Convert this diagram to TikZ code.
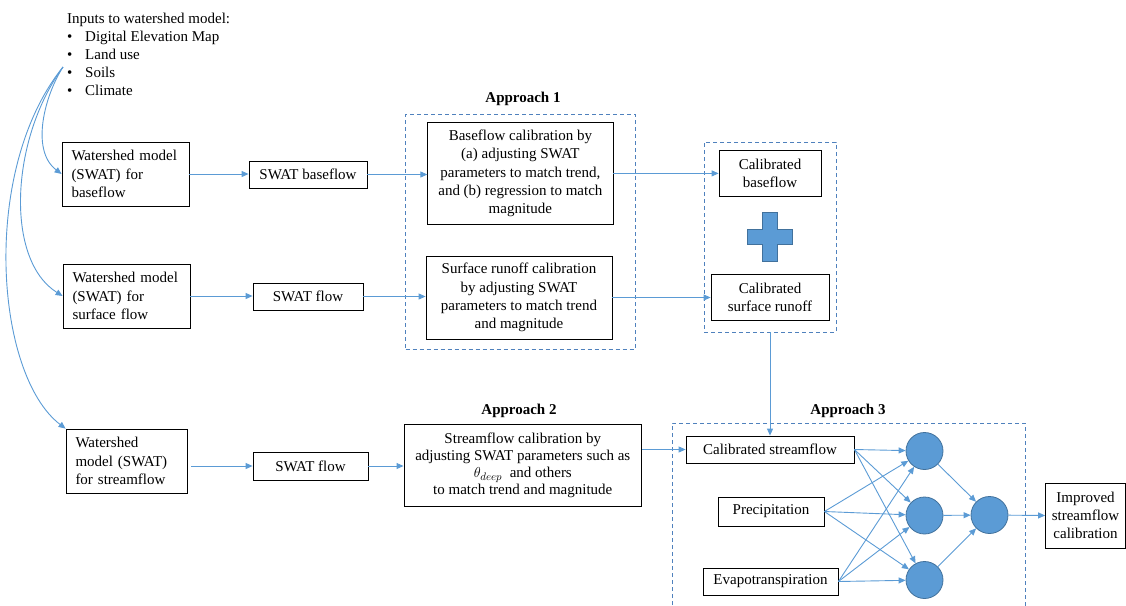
\documentclass[tikz,border=0pt]{standalone}
\usepackage{fontspec}
\setmainfont{Liberation Serif}
\usetikzlibrary{arrows.meta,shapes.geometric}
\definecolor{lblue}{HTML}{5B9BD5}
\definecolor{dblue}{HTML}{41719C}
\definecolor{dashblue}{HTML}{4F81BD}
\newcommand{\mf}{\fontsize{15}{18.2}\selectfont}
\newcommand{\bul}{\makebox[18pt][l]{\textbullet}}
\begin{document}
\begin{tikzpicture}[x=1pt,y=-1pt,
 box/.style={draw=black,fill=white,line width=0.8pt,inner sep=0pt,align=center,font=\mf},
 lbox/.style={box,align=left,inner xsep=9.5pt},
 dbox/.style={draw=dashblue,line width=0.9pt,dash pattern=on 4pt off 3pt,inner sep=0pt},
 arr/.style={draw=lblue,line width=0.9pt,-{Triangle[length=7pt,width=6pt]}},
 neuron/.style={circle,fill=lblue,draw=dblue,line width=0.8pt,minimum size=37pt,inner sep=0pt},
 lab/.style={font=\mf\bfseries,inner sep=0pt}]
\useasboundingbox (0,0) rectangle (1126,605);

% inputs
\node[font=\mf,align=left,inner sep=0pt,anchor=north west] (inp) at (67,12.5)
  {Inputs to watershed model:\\
   \bul Digital Elevation Map\\
   \bul Land use\\
   \bul Soils\\
   \bul Climate};
\coordinate (src) at (63,67);

% left boxes
\node[lbox,text width=108pt,minimum height=64pt] (A1) at (125.5,174) {Watershed model\\(SWAT) for\\baseflow};
\node[lbox,text width=108pt,minimum height=64pt] (B1) at (126.5,296) {Watershed model\\(SWAT) for\\surface flow};
\node[lbox,text width=102pt,minimum height=64pt] (C1) at (126.5,461) {Watershed\\model (SWAT)\\for streamflow};

\node[box,minimum width=118pt,minimum height=27pt] (sb) at (308,174.5) {SWAT baseflow};
\node[box,minimum width=110pt,minimum height=27pt] (sfB) at (308,296.5) {SWAT flow};
\node[box,minimum width=115pt,minimum height=28pt] (sfC) at (310.5,466) {SWAT flow};

% approach 1
\node[lab] (ap1) at (523,99) {Approach 1};
\node[dbox,minimum width=229.5pt,minimum height=235pt] (a1box) at (520.25,231.5) {};
\node[box,minimum width=185.3pt,minimum height=101.3pt] (bc) at (520.4,173.4)
  {Baseflow calibration by\\ (a) adjusting SWAT\\parameters to match trend,\\and (b) regression to match\\magnitude};
\node[box,minimum width=186pt,minimum height=83pt] (sr) at (519,297.5)
  {Surface runoff calibration\\by adjusting SWAT\\parameters to match trend\\and magnitude};

% calibrated components
\node[dbox,minimum width=132pt,minimum height=190pt] (rbox) at (770,237) {};
\node[box,minimum width=102pt,minimum height=46pt] (cb) at (770,173.7) {Calibrated\\baseflow};
\node[box,minimum width=118pt,minimum height=46.7pt] (csr) at (770,297.4) {Calibrated\\surface runoff};
\filldraw[fill=lblue,draw=dblue,line width=0.8pt]
  (762.7,212.7) -- (777.7,212.7) -- (777.7,229.7) -- (792.7,229.7) -- (792.7,244.7) -- (777.7,244.7)
  -- (777.7,261.7) -- (762.7,261.7) -- (762.7,244.7) -- (747.7,244.7) -- (747.7,229.7) -- (762.7,229.7) -- cycle;

% approach 2
\node[lab] (ap2) at (519,411) {Approach 2};
\node[box,font=\fontsize{15}{17}\selectfont,minimum width=237.7pt,minimum height=82.7pt] (sc) at (522.8,465.3)
  {Streamflow calibration by\\adjusting SWAT parameters such as\\$\theta_{deep}$\ \ and others\\to match trend and magnitude};

% approach 3
\node[lab] (ap3) at (848,411) {Approach 3};
\draw[dbox] (672,612) -- (672,423) -- (1025,423) -- (1025,612);
\node[box,minimum width=168pt,minimum height=27pt] (cs) at (770,449.5) {Calibrated streamflow};
\node[box,minimum width=106pt,minimum height=29pt] (pr) at (771,511.5) {Precipitation};
\node[box,minimum width=135pt,minimum height=27pt] (ev) at (770.5,581.5) {Evapotranspiration};
\node[neuron] (h1) at (924.5,451) {};
\node[neuron] (h2) at (924.5,515.5) {};
\node[neuron] (h3) at (924.5,580) {};
\node[neuron] (o) at (989.5,515) {};
\node[box,minimum width=80pt,minimum height=65pt] (imp) at (1085.5,515.5) {Improved\\streamflow\\calibration};

% connectors
\draw[arr] (src) .. controls (45,95) and (30,150) .. (A1.west);
\draw[arr] (src) .. controls (10,140) and (5,260) .. (B1.west);
\draw[arr] (src) .. controls (-20,170) and (-5,375) .. (C1.north west);

\draw[arr] (A1.east) -- (A1.east -| sb.west);
\draw[arr] (B1.east) -- (B1.east -| sfB.west);
\draw[arr,shorten <=4pt] (sfC.west -| C1.east) -- (sfC.west);
\draw[arr] (sb.east) -- (sb.east -| bc.west);
\draw[arr] (sfB.east) -- (sfB.east -| sr.west);
\draw[arr] (sfC.east) -- (sfC.east -| sc.west);
\draw[arr] (bc.east) -- (bc.east -| cb.west);
\draw[arr] (sr.east) -- (sr.east -| csr.west);
\draw[arr] (rbox.south) -- (cs.north);
\draw[arr] (sc.east |- cs.west) -- (cs.west);
\foreach \i in {cs,pr,ev}{
  \foreach \h in {h1,h2,h3}{
    \draw[arr] (\i.east) -- (\h);
  }
}
\foreach \h in {h1,h2,h3}{
  \draw[arr] (\h) -- (o);
}
\draw[arr] (o) -- (imp.west);
\end{tikzpicture}
\end{document}
